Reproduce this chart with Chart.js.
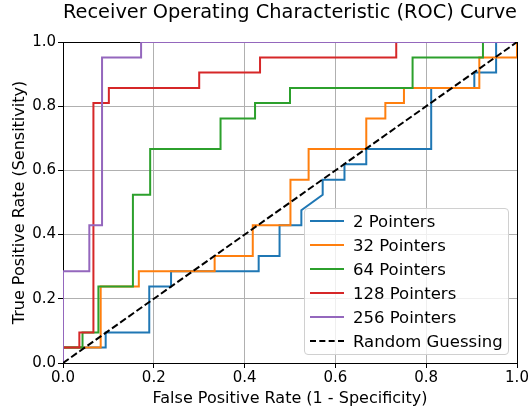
<!DOCTYPE html>
<html>
<head>
<meta charset="utf-8">
<script src="https://cdn.jsdelivr.net/npm/chart.js@4.4.1/dist/chart.umd.min.js"></script>
<style>
    body { margin: 0; background: #fff; }
    #wrap { position: relative; width: 531px; height: 412px; }
    #legend {
        position: absolute; left: 304px; top: 208px; width: 205px; height: 147px;
        border: 1px solid #d0d0d0; border-radius: 4px; background: rgba(255,255,255,0.8);
        font-family: "DejaVu Sans", sans-serif; font-size: 16.5px; color: #000;
        box-sizing: border-box; padding-top: 0px;
    }
    .row { display: flex; align-items: center; height: 24px; }
    .swatch { width: 34px; margin-left: 5px; margin-right: 9px; border-top-width: 2px; border-top-style: solid; height: 0; }
</style>
</head>
<body>
<div id="wrap">
    <canvas id="roc" width="531" height="412"></canvas>
    <div id="legend"></div>
</div>
<script>
// ROC points (fpr, tpr) per model
const seriesLabels = ['2 Pointers', '32 Pointers', '64 Pointers', '128 Pointers', '256 Pointers'];

const fpr2 = [0, 0, 0.094, 0.094, 0.19, 0.19, 0.238, 0.238, 0.431, 0.431, 0.477, 0.477, 0.525, 0.525, 0.572, 0.572, 0.62, 0.62, 0.668, 0.668, 0.811, 0.811, 0.906, 0.906, 0.954, 0.954, 1];
const tpr2 = [0, 0.048, 0.048, 0.095, 0.095, 0.238, 0.238, 0.286, 0.286, 0.333, 0.333, 0.429, 0.429, 0.476, 0.524, 0.571, 0.571, 0.619, 0.619, 0.667, 0.667, 0.857, 0.857, 0.905, 0.905, 1, 1];

const fpr32 = [0, 0, 0.083, 0.083, 0.167, 0.167, 0.334, 0.334, 0.418, 0.418, 0.501, 0.501, 0.541, 0.541, 0.668, 0.668, 0.71, 0.71, 0.751, 0.751, 0.917, 0.917, 1, 1];
const tpr32 = [0, 0.048, 0.048, 0.238, 0.238, 0.286, 0.286, 0.333, 0.333, 0.429, 0.429, 0.571, 0.571, 0.667, 0.667, 0.762, 0.762, 0.81, 0.81, 0.857, 0.857, 0.952, 0.952, 1];

const fpr64 = [0, 0, 0.043, 0.043, 0.078, 0.078, 0.154, 0.154, 0.192, 0.192, 0.347, 0.347, 0.423, 0.423, 0.5, 0.5, 0.77, 0.77, 0.925, 0.925, 1];
const tpr64 = [0, 0.048, 0.048, 0.095, 0.095, 0.238, 0.238, 0.524, 0.524, 0.667, 0.667, 0.762, 0.762, 0.81, 0.81, 0.857, 0.857, 0.952, 0.952, 1, 1];

const fpr128 = [0, 0, 0.036, 0.036, 0.067, 0.067, 0.101, 0.101, 0.3, 0.3, 0.434, 0.434, 0.734, 0.734, 1];
const tpr128 = [0, 0.048, 0.048, 0.095, 0.095, 0.81, 0.81, 0.857, 0.857, 0.905, 0.905, 0.952, 0.952, 1, 1];

const fpr256 = [0, 0, 0.058, 0.058, 0.086, 0.086, 0.172, 0.172, 1];
const tpr256 = [0, 0.286, 0.286, 0.429, 0.429, 0.952, 0.952, 1, 1];

const fprRandom = [0, 1];
const tprRandom = [0, 1];

const axisTicks = [0, 0.2, 0.4, 0.6, 0.8, 1.0];

const colors = ['#1f77b4', '#ff7f0e', '#2ca02c', '#d62728', '#9467bd'];
const FONT = '"DejaVu Sans", sans-serif';

function toPoints(xs, ys) {
    return xs.map((x, i) => ({ x: x, y: ys[i] }));
}

const rocX = [fpr2, fpr32, fpr64, fpr128, fpr256];
const rocY = [tpr2, tpr32, tpr64, tpr128, tpr256];

const datasets = seriesLabels.map((label, i) => ({
    label: label,
    data: toPoints(rocX[i], rocY[i]),
    borderColor: colors[i],
    backgroundColor: colors[i],
    borderWidth: 2,
    pointRadius: 0,
    tension: 0,
    order: 10 - i
}));
datasets.push({
    label: 'Random Guessing',
    data: toPoints(fprRandom, tprRandom),
    borderColor: '#000',
    backgroundColor: '#000',
    borderWidth: 2,
    borderDash: [7, 3],
    pointRadius: 0,
    order: 0
});

// matplotlib style full box around the axes (under the curves)
const frame = {
    id: 'frame',
    beforeDatasetsDraw(chart) {
        const a = chart.chartArea, ctx = chart.ctx;
        ctx.save();
        ctx.strokeStyle = '#000';
        ctx.lineWidth = 1;
        ctx.strokeRect(Math.round(a.left) + 0.5, Math.round(a.top) + 0.5,
            Math.round(a.right - a.left), Math.round(a.bottom - a.top));
        ctx.restore();
    }
};

const chart = new Chart(document.getElementById('roc'), {
    type: 'line',
    data: { datasets: datasets },
    options: {
        responsive: false,
        animation: false,
        devicePixelRatio: 1,
        layout: { padding: { left: 0, right: 14, top: 0, bottom: 0 } },
        plugins: {
            legend: { display: false },
            tooltip: { enabled: false },
            title: {
                display: true,
                text: 'Receiver Operating Characteristic (ROC) Curve',
                fullSize: false,
                color: '#000',
                font: { family: FONT, size: 20, weight: 'normal' },
                padding: { top: 1, bottom: 17 }
            }
        },
        scales: {
            x: {
                type: 'linear',
                min: 0, max: 1,
                afterBuildTicks: s => { s.ticks = axisTicks.map(v => ({ value: v })); },
                afterFit: s => { s.height = 49; },
                ticks: {
                    color: '#000',
                    font: { family: FONT, size: 15 },
                    padding: 1,
                    maxRotation: 0,
                    callback: v => v.toFixed(1)
                },
                grid: { color: '#b0b0b0', lineWidth: 1, tickColor: '#000', tickLength: 5 },
                border: { color: '#000', width: 1 },
                title: {
                    display: true,
                    text: 'False Positive Rate (1 - Specificity)',
                    color: '#000',
                    font: { family: FONT, size: 16 },
                    padding: { top: 0, bottom: 4 }
                }
            },
            y: {
                type: 'linear',
                min: 0, max: 1,
                afterBuildTicks: s => { s.ticks = axisTicks.map(v => ({ value: v })); },
                afterFit: s => { s.width = 63; },
                ticks: {
                    color: '#000',
                    font: { family: FONT, size: 15 },
                    padding: 2,
                    callback: v => v.toFixed(1)
                },
                grid: { color: '#b0b0b0', lineWidth: 1, tickColor: '#000', tickLength: 5 },
                border: { color: '#000', width: 1 },
                title: {
                    display: true,
                    text: 'True Positive Rate (Sensitivity)',
                    color: '#000',
                    font: { family: FONT, size: 16 },
                    padding: { top: 10, bottom: 0 }
                }
            }
        }
    },
    plugins: [frame]
});

// legend inside the axes, built from the datasets
const legendEl = document.getElementById('legend');
chart.data.datasets.forEach(ds => {
    const row = document.createElement('div');
    row.className = 'row';
    const sw = document.createElement('span');
    sw.className = 'swatch';
    sw.style.borderTopColor = ds.borderColor;
    if (ds.borderDash) sw.style.borderTopStyle = 'dashed';
    const txt = document.createElement('span');
    txt.textContent = ds.label;
    row.appendChild(sw);
    row.appendChild(txt);
    legendEl.appendChild(row);
});
</script>
</body>
</html>
